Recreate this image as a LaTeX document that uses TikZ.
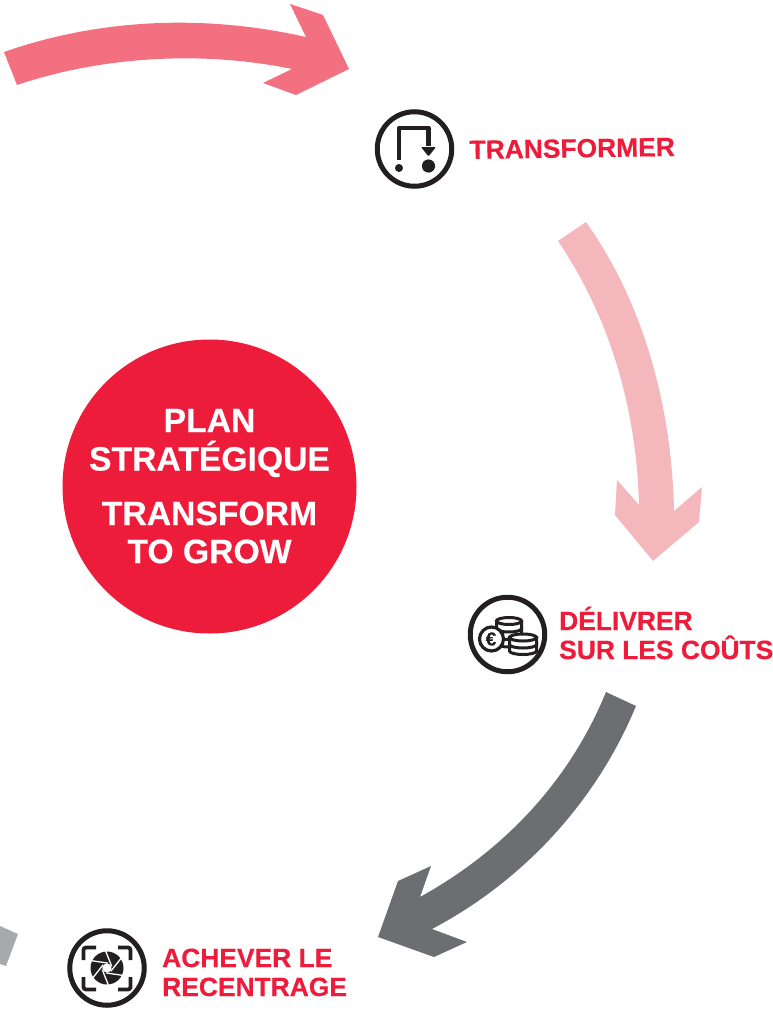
\documentclass[tikz,border=0pt]{standalone}
\usepackage{fontspec}
\usetikzlibrary{calc}
\setmainfont{Liberation Sans}
\newfontfamily\heavyface[FakeBold=0.35]{Liberation Sans Bold}
\definecolor{brandred}{HTML}{EE1C3B}
\definecolor{rosea}{HTML}{F37080}
\definecolor{roseb}{HTML}{F4B8BC}
\definecolor{greya}{HTML}{6D6E71}
\definecolor{greyb}{HTML}{A7A9AC}
\definecolor{ink}{HTML}{231F20}
\tikzset{
 lab/.style={text=brandred,font=\heavyface\fontsize{26.4}{29}\selectfont,anchor=base west,inner sep=0pt},
 centre/.style={text=white,font=\heavyface\fontsize{33.7}{38}\selectfont,anchor=base,inner sep=0pt},
 ring/.style={draw=ink,line width=5pt,circle,minimum size=74.5pt,inner sep=0pt,outer sep=0pt},
 iconline/.style={draw=ink,line width=4.8pt},
 bracket/.style={draw=ink,line width=3.8pt,rounded corners=2.5pt},
 coinline/.style={fill=white,draw=ink,line width=3pt}
}
\begin{document}
\begin{tikzpicture}[x=1pt,y=-1pt]
\useasboundingbox (0,0) rectangle (772,1012);
% sweep arrows
\fill[rosea] (4,52) .. controls (95,20) and (200,13) .. (306,37) -- (290,4) -- (323,15) -- (349,69) -- (296,95) -- (263,83) -- (292,69) .. controls (200,50) and (100,57) .. (17,85) -- cycle;
\fill[roseb] (586,222) .. controls (645,305) and (672,410) .. (674,511) -- (702,487) -- (699,522) -- (653,561) -- (615,515) -- (617,480) -- (639,505) .. controls (637,420) and (615,325) .. (558,241) -- cycle;
\fill[greya] (606,692) .. controls (570,780) and (505,850) .. (420,897) -- (431,866) -- (398,881) -- (378,937) -- (434,957) -- (467,942) -- (432,929) .. controls (525,880) and (597,800) .. (636,706) -- cycle;
\fill[greyb] (0,926) -- (18,934) -- (6,966) -- (0,964) -- cycle;
% centre disc
\node[circle,fill=brandred,minimum size=294pt,inner sep=0pt,outer sep=0pt] (disc) at (209.5,486.5) {};
\node[centre] (plan) at (209.5,432) {PLAN};
\node[centre] (strat) at (209.5,470.5) {STRATÉGIQUE};
\node[centre] (transform) at (209.5,525) {TRANSFORM};
\node[centre] (togrow) at (209.5,563) {TO GROW};
% labels
\node[lab,rotate=0.85] (ltrans) at (469.5,159) {TRANSFORMER};
\node[lab] (ldel) at (559,630) {DÉLIVRER};
\node[lab] (lsur) at (559,659) {SUR LES COÛTS};
\node[lab] (lach) at (162,967) {ACHEVER LE};
\node[lab] (lrec) at (162,996) {RECENTRAGE};
% icon 1
\node[ring] (ione) at (414.5,149) {};
\draw[iconline,line join=round] (399,160) -- (399,128) -- (428.5,128) -- (428.5,146);
\fill[ink,rounded corners=1pt] (421,147) -- (436,147) -- (428.5,156.5) -- cycle;
\fill[ink] (399,168) circle[radius=4];
\fill[ink] (428.5,166) circle[radius=6.6];
% icon 2
\node[ring] (itwo) at (507.5,634.5) {};
\foreach \yy in {636,628.5,621} {
 \filldraw[coinline] (496.5,\yy) -- (496.5,\yy+7.5) arc[x radius=12.5,y radius=3.5,start angle=180,end angle=0] -- (521.5,\yy) -- cycle;
}
\filldraw[coinline] (509,621) ellipse[x radius=12.5,y radius=3.5];
\foreach \yy in {644,637.5} {
 \filldraw[coinline] (509.5,\yy) -- (509.5,\yy+7) arc[x radius=13.5,y radius=3.5,start angle=180,end angle=0] -- (536.5,\yy) -- cycle;
}
\filldraw[coinline] (523,637.5) ellipse[x radius=13.5,y radius=3.5];
\filldraw[fill=white,draw=ink,line width=3.2pt] (491.5,639) circle[radius=12];
\node[text=ink,font=\heavyface\fontsize{19}{19}\selectfont,inner sep=0pt] (euro) at (491,639) {€};
% icon 3
\node[ring] (ithree) at (107,968) {};
\draw[bracket] (96,947.5) -- (83.5,947.5) -- (83.5,960);
\draw[bracket] (118,947.5) -- (130.5,947.5) -- (130.5,960);
\draw[bracket] (96,989.5) -- (83.5,989.5) -- (83.5,977);
\draw[bracket] (118,989.5) -- (130.5,989.5) -- (130.5,977);
\fill[ink] (107,968) circle[radius=16.5];
\foreach \a in {25,85,...,325} {
 \draw[white,line width=1.3pt] ($(107,968)+(\a:17.5)$) -- ($(107,968)+(\a+75:5)$);
}
\fill[white] (107,968) circle[radius=4.6];
\end{tikzpicture}
\end{document}
